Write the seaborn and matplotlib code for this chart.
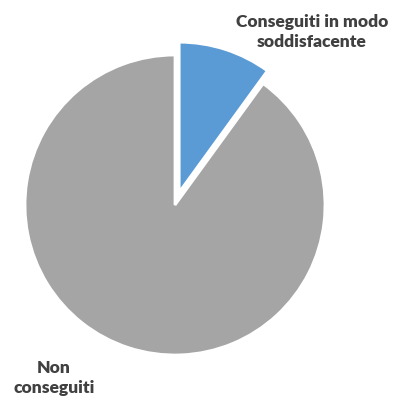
import matplotlib
matplotlib.use("Agg")
import matplotlib.pyplot as plt
import seaborn as sns

categories = ["Conseguiti in modo\nsoddisfacente", "Non\nconseguiti"]
values = [10, 90]
colors = ["#5B9BD5", "#A5A5A5"]
explode = [0.09, 0.0]

sns.set_style("white")
plt.rcParams['font.family'] = ['Lato', 'DejaVu Sans']

fig = plt.figure(figsize=(4.07, 4.01), dpi=100)
ax = fig.add_axes([0, 0, 1, 1])
ax.pie(values, colors=colors, explode=explode, startangle=90, counterclock=False,
       wedgeprops=dict(edgecolor="white", linewidth=2))
ax.set_xlim(-1.1667, 1.5467)
ax.set_ylim(-1.3067, 1.3667)
ax.set_aspect("equal")
ax.axis("off")

label_pos = [(0.913, 1.153), (-0.807, -1.153)]
for lab, (x, y) in zip(categories, label_pos):
    ax.text(x, y, lab, ha="center", va="center", fontsize=12.5, fontweight="heavy",
            color="#404040", linespacing=1.25)

fig.savefig("out.png", dpi=100)
